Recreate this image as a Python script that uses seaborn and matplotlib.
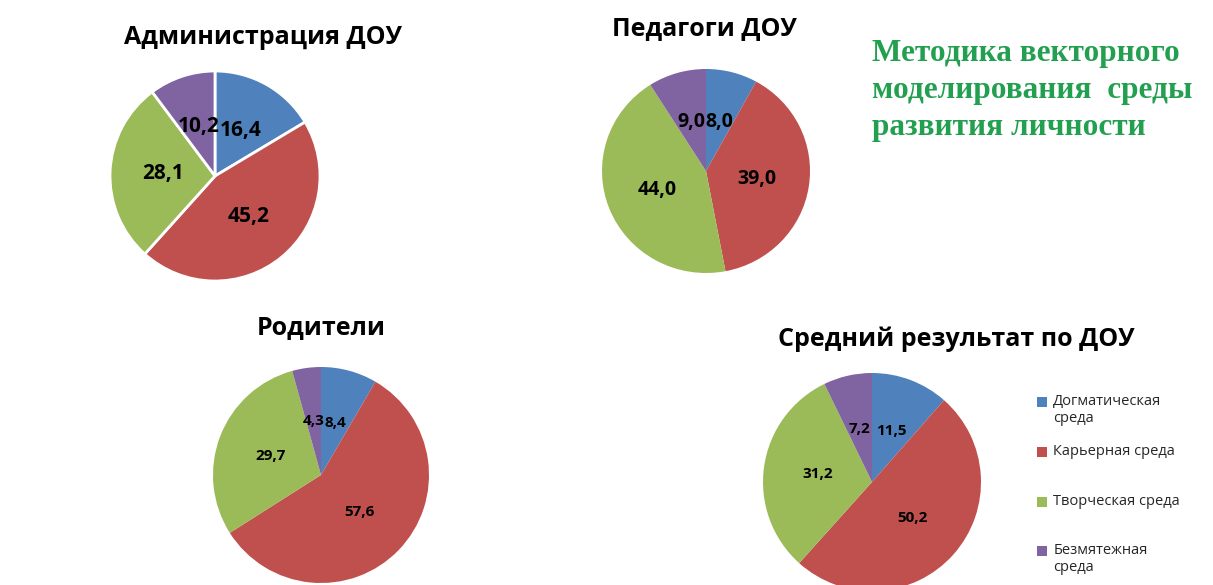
import matplotlib
matplotlib.use("Agg")
import matplotlib.pyplot as plt
import seaborn as sns

# data
categories = ["Догматическая\nсреда", "Карьерная среда\n ", "Творческая среда\n ", "Безмятежная\nсреда"]
admin_vals = [16.4, 45.2, 28.1, 10.2]
teacher_vals = [8.0, 39.0, 44.0, 9.0]
parent_vals = [8.4, 57.6, 29.7, 4.3]
mean_vals = [11.5, 50.2, 31.2, 7.2]

sns.set_theme(style="white")
plt.rcParams['font.family'] = ['Open Sans', 'Liberation Sans', 'DejaVu Sans']
colors = sns.color_palette(["#4F81BD", "#C0504D", "#9BBB59", "#8064A2"])

W, H = 1213, 585
fig = plt.figure(figsize=(W / 100, H / 100), dpi=100)


def fmt(v):
    return f"{v:.1f}".replace(".", ",")


def draw_pie(vals, cx, cy, rx, ry, fs, edge):
    ax = fig.add_axes([(cx - rx) / W, 1 - (cy + ry) / H, 2 * rx / W, 2 * ry / H])
    labels = iter([fmt(v) for v in vals])
    wedges, _, autotexts = ax.pie(
        vals, colors=colors, startangle=90, counterclock=False,
        autopct=lambda p: next(labels), pctdistance=0.5,
        wedgeprops=dict(edgecolor="white", linewidth=edge),
        textprops=dict(fontsize=fs, fontweight="bold", color="black"))
    ax.set_aspect("auto")
    ax.set_xlim(-1, 1)
    ax.set_ylim(-1, 1)
    for w in wedges:
        w.set_clip_on(False)
    return wedges


draw_pie(admin_vals, 215, 176, 105, 105, 15, 2)
draw_pie(teacher_vals, 706, 171, 104, 102, 14, 0)
draw_pie(parent_vals, 321, 475, 108, 108, 11, 0)
w4 = draw_pie(mean_vals, 872, 482, 109, 109, 11, 0)

title_kw = dict(fontsize=18, fontweight="bold", ha="center", va="center", color="black")
fig.text(263 / W, 1 - 38 / H, "Администрация ДОУ", **title_kw)
fig.text(704 / W, 1 - 29 / H, "Педагоги ДОУ", **title_kw)
fig.text(321 / W, 1 - 328 / H, "Родители", **title_kw)
fig.text(956 / W, 1 - 339 / H, "Средний результат по ДОУ", **title_kw)

fig.text(872 / W, 1 - 39 / H, "Методика векторного\nмоделирования  среды\nразвития личности",
         family=["Liberation Serif"], fontsize=22.5, fontweight="bold", color="#22A050",
         ha="left", va="top", linespacing=1.36)

leg = fig.legend(w4, categories, loc="upper left", bbox_to_anchor=(1024 / W, 1 - 381 / H),
                 frameon=False, fontsize=10.5, handlelength=0.7, handleheight=0.7,
                 handletextpad=0.4, labelspacing=1.2)
# markers sit on the first line of each entry
for p in leg.get_patches():
    p.set_y(p.get_y() + 6)

fig.savefig("out.png", dpi=100)
